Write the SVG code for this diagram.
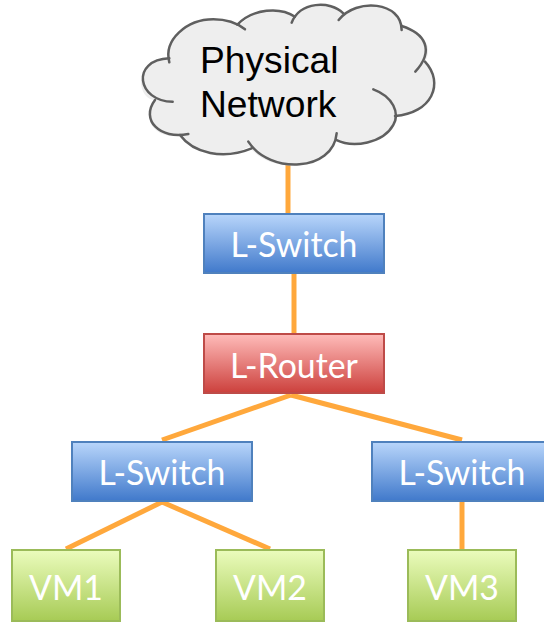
<svg xmlns="http://www.w3.org/2000/svg" width="544" height="622" viewBox="0 0 544 622">
<style>
.n{stroke-width:2}
.sw{fill:url(#blue);stroke:#4f81bd}
.rt{fill:url(#red);stroke:#be4b48}
.vm{fill:url(#green);stroke:#9bbb59}
.t{font-family:Lato,"Open Sans","Liberation Sans",sans-serif;font-size:33.8px;fill:#fff;text-anchor:middle}
.p{font-family:"Liberation Sans",Arial,sans-serif;font-size:37.2px;fill:#000}
.c{fill:none;stroke:#ffa83c;stroke-width:5}
.cl{fill:none;stroke:#5f5f5f;stroke-width:7.5;stroke-linecap:round}
</style>
<defs>
<linearGradient id="blue" x1="0" y1="0" x2="0" y2="1"><stop offset="0" stop-color="#b9d6fb"/><stop offset="1" stop-color="#4079cb"/></linearGradient>
<linearGradient id="red" x1="0" y1="0" x2="0" y2="1"><stop offset="0" stop-color="#ffbcba"/><stop offset="1" stop-color="#cc403c"/></linearGradient>
<linearGradient id="green" x1="0" y1="0" x2="0" y2="1"><stop offset="0" stop-color="#ebfcbd"/><stop offset="1" stop-color="#a7cb55"/></linearGradient>
</defs>
<g id="connectors">
<path class="c" d="M288 160V213"/>
<path class="c" d="M294 274V333"/>
<path class="c" d="M291 395L162 440"/>
<path class="c" d="M291 395L462 440"/>
<path class="c" d="M162 502L66 549"/>
<path class="c" d="M162 502L270 549"/>
<path class="c" d="M462 502V549"/>
</g>
<g id="cloud">
<g transform="translate(130 0) scale(.3333)">
<path fill="#eeeeee" d="M118 178C100 120 170 58 250 58C285 58 310 65 330 75C380 25 460 20 495 50C530 0 610 5 640 40C700 -5 815 10 815 82C885 100 910 140 885 185C945 250 905 340 795 348C785 415 680 455 618 420C590 510 420 525 358 440C280 480 180 455 150 405C80 420 30 360 75 300C20 298 5 180 118 178Z"/>
<path class="cl" d="M118 187C100 120 170 58 250 58C290 58 325 72 345 88"/>
<path class="cl" d="M322 74C370 25 450 20 495 50"/>
<path class="cl" d="M485 68C510 5 600 0 640 40"/>
<path class="cl" d="M626 60C680 -8 815 5 815 90"/>
<path class="cl" d="M815 78C885 100 915 150 856 215"/>
<path class="cl" d="M885 185C945 250 905 340 795 348"/>
<path class="cl" d="M730 268C790 290 810 340 790 375C760 430 670 445 618 420"/>
<path class="cl" d="M620 400C610 515 420 525 355 425"/>
<path class="cl" d="M365 445C280 480 190 460 150 405"/>
<path class="cl" d="M175 402C90 420 30 360 75 300"/>
<path class="cl" d="M128 305C22 305 0 180 118 175"/>
</g>
<text class="p" x="200" y="73">Physical</text>
<text class="p" x="200" y="117">Network</text>
</g>
<g id="switch-top"><rect class="n sw" x="204" y="214" width="180" height="59"/><text class="t" x="294" y="257">L-Switch</text></g>
<g id="router"><rect class="n rt" x="204" y="334" width="180" height="59"/><text class="t" x="294" y="378">L-Router</text></g>
<g id="switch-left"><rect class="n sw" x="72" y="442" width="180" height="59"/><text class="t" x="162" y="485">L-Switch</text></g>
<g id="switch-right"><rect class="n sw" x="372" y="442" width="180" height="59"/><text class="t" x="462" y="485">L-Switch</text></g>
<g id="vm1"><rect class="n vm" x="12" y="550" width="108" height="71"/><text class="t" x="66" y="600">VM1</text></g>
<g id="vm2"><rect class="n vm" x="216" y="550" width="108" height="71"/><text class="t" x="270" y="600">VM2</text></g>
<g id="vm3"><rect class="n vm" x="408" y="550" width="108" height="71"/><text class="t" x="462" y="600">VM3</text></g>
</svg>
